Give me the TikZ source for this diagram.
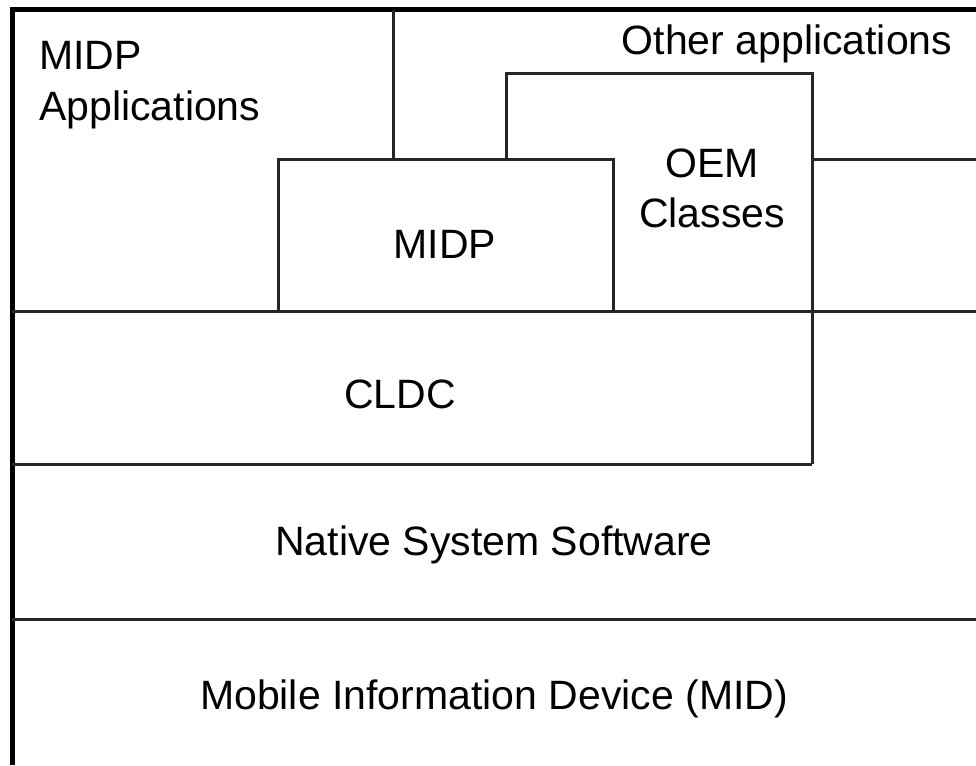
\documentclass[tikz,border=0pt]{standalone}
\usepackage{fontspec}
\setmainfont{Liberation Sans}
\begin{document}
\begin{tikzpicture}[x=1pt,y=-1pt,
  thinline/.style={line width=3pt,draw=black!85},
  thickline/.style={line width=5pt,draw=black},
  lbl/.style={inner sep=0pt,font=\fontsize{41}{50}\selectfont,text=black}]
\useasboundingbox (0,0) rectangle (976,765);
% outer frame (top and left)
\draw[thickline] (9.5,10) -- (976,10);
\draw[thickline] (12,10) -- (12,765);
% MIDP applications / other applications divider
\draw[thinline] (393,10) -- (393,159);
% MIDP box
\draw[thinline] (278,311) -- (278,159) -- (613,159) -- (613,311);
% OEM classes box
\draw[thinline] (506,159) -- (506,74) -- (812,74) -- (812,464);
\draw[thinline] (812,159) -- (976,159);
% layer lines
\draw[thinline] (12,311) -- (976,311);
\draw[thinline] (12,464) -- (812,464);
\draw[thinline] (12,619) -- (976,619);
% labels
\node[lbl,anchor=base west] (midpapp1) at (39,70) {MIDP};
\node[lbl,anchor=base west] (midpapp2) at (39,121) {Applications};
\node[lbl,anchor=base] (other) at (787,55) {Other applications};
\node[lbl,anchor=base] (oem1) at (712,177) {OEM};
\node[lbl,anchor=base] (oem2) at (712,227) {Classes};
\node[lbl,anchor=base] (midp) at (445,258) {MIDP};
\node[lbl,anchor=base] (cldc) at (400,408) {CLDC};
\node[lbl,anchor=base] (native) at (494,555) {Native System Software};
\node[lbl,anchor=base] (mid) at (494,709) {Mobile Information Device (MID)};
\end{tikzpicture}
\end{document}
